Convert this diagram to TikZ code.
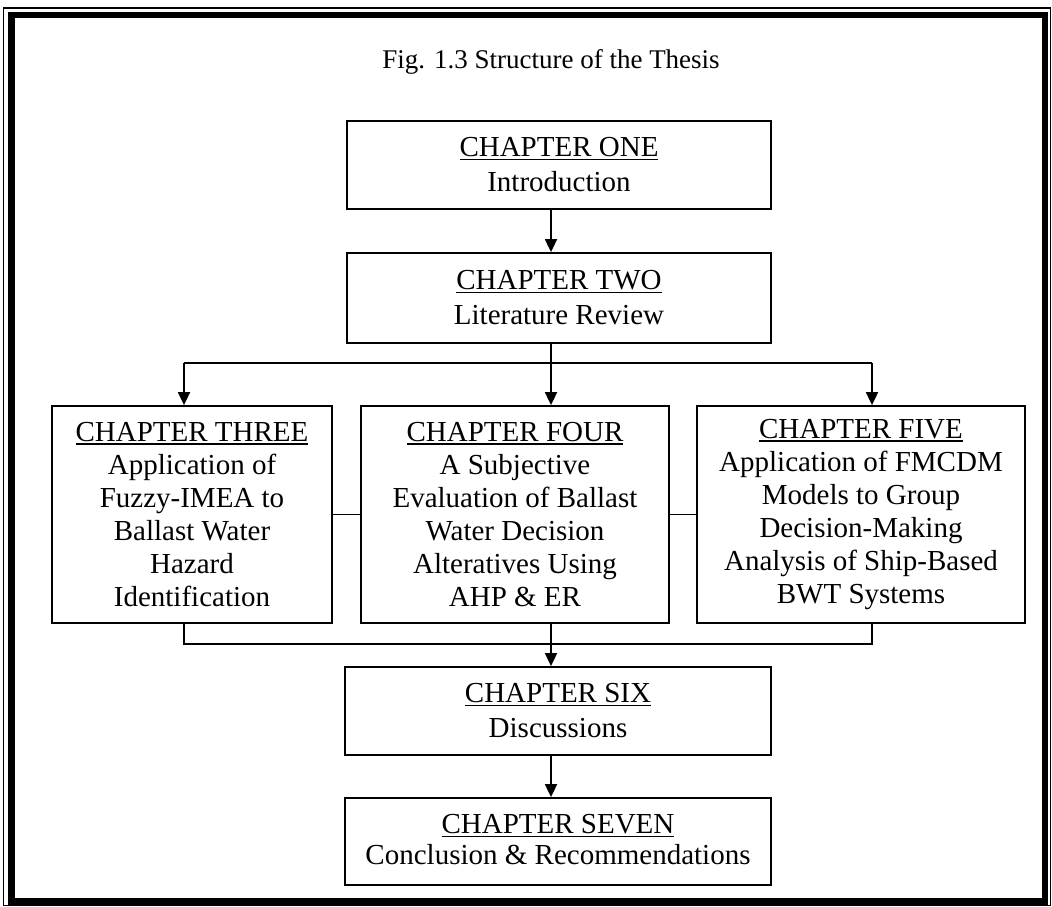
\documentclass[tikz,border=0pt]{standalone}
\usepackage{fontspec}
\setmainfont{Liberation Serif}
\usetikzlibrary{arrows.meta}
% underlined chapter heading
\newcommand\chapline[1]{\setbox0\hbox{#1}\rlap{\rule[-3.5pt]{\wd0}{1.6pt}}\box0}

\begin{document}
\begin{tikzpicture}[x=1pt,y=-1pt,
  chapbox/.style={draw, line width=1.8pt, inner sep=0pt, align=center,
    font=\fontsize{29}{33}\selectfont},
  wide/.style={font=\fontsize{29}{35}\selectfont},
  conn/.style={line width=1.8pt},
  arr/.style={conn, -{Triangle[length=13pt,width=12pt]}}]
\useasboundingbox (0,0) rectangle (1052,906);

% page frame: thin outer rule and thick inner rule
\draw[line width=1.5pt] (3.5,8) rectangle (1050.5,905.5);
\draw[line width=6.5pt] (11.5,15) rectangle (1045,901.5);

% caption
\node[anchor=base, font=\fontsize{27}{30}\selectfont] (title) at (551,68)
  {Fig. 1.3 Structure of the Thesis};

% chapter boxes
\node[chapbox, wide, minimum width=424pt, minimum height=88pt] (one) at (559,165)
  {\chapline{CHAPTER ONE}\\Introduction};
\node[chapbox, wide, minimum width=424pt, minimum height=90pt] (two) at (559,298)
  {\chapline{CHAPTER TWO}\\Literature Review};
\node[chapbox, minimum width=280pt, minimum height=217pt] (three) at (192,514.5)
  {\chapline{CHAPTER THREE}\\Application of\\Fuzzy-IMEA to\\Ballast Water\\Hazard\\Identification};
\node[chapbox, minimum width=308pt, minimum height=217pt] (four) at (515,514.5)
  {\chapline{CHAPTER FOUR}\\A Subjective\\Evaluation of Ballast\\Water Decision\\Alteratives Using\\AHP \& ER};
\node[chapbox, minimum width=328pt, minimum height=217pt] (five) at (861,514.5)
  {\chapline{CHAPTER FIVE}\\Application of FMCDM\\Models to Group\\Decision-Making\\Analysis of Ship-Based\\BWT Systems};
\node[chapbox, wide, minimum width=426pt, minimum height=88pt] (six) at (558,711)
  {\chapline{CHAPTER SIX}\\Discussions};
\node[chapbox, font=\fontsize{29}{31}\selectfont, text depth=4pt,
  minimum width=426pt, minimum height=87pt] (seven) at (558,841.5)
  {\chapline{CHAPTER SEVEN}\\Conclusion \& Recommendations};

% branch points
\coordinate (bl) at (184,363);
\coordinate (bm) at (551,363);
\coordinate (br) at (872,363);
\coordinate (cl) at (184,644);
\coordinate (cr) at (872,644);

% connectors
\draw[arr] (one.south -| bm) -- (two.north -| bm);
\draw[conn] (two.south -| bm) -- (bm);
\draw[conn] (bl) -- (br);
\draw[arr] (bl) -- (three.north -| bl);
\draw[arr] (bm) -- (four.north -| bm);
\draw[arr] (br) -- (five.north -| br);
\draw[conn] (three.east) -- (four.west);
\draw[conn] (four.east) -- (five.west);
\draw[conn] (three.south -| cl) -- (cl) -- (cr) -- (five.south -| cr);
\draw[arr] (four.south -| bm) -- (six.north -| bm);
\draw[arr] (six.south -| bm) -- (seven.north -| bm);
\end{tikzpicture}
\end{document}
